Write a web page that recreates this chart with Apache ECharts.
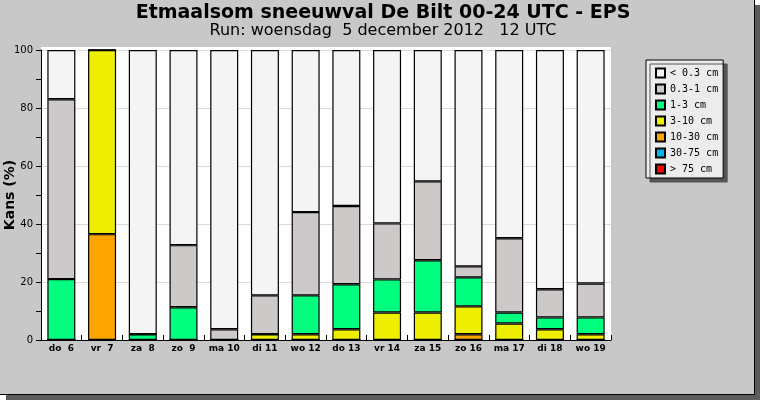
<!DOCTYPE html>
<html>
<head>
<meta charset="utf-8">
<script src="https://cdn.jsdelivr.net/npm/echarts@6/dist/echarts.min.js"></script>
<style>
  html, body { margin: 0; padding: 0; background: #fff; }
  #chart { width: 760px; height: 400px; }
</style>
</head>
<body>
<div id="chart"></div>
<script>
// dagen (x-as)
var days = ['do  6', 'vr  7', 'za  8', 'zo  9', 'ma 10', 'di 11', 'wo 12',
            'do 13', 'vr 14', 'za 15', 'zo 16', 'ma 17', 'di 18', 'wo 19'];

// kans (%) per klasse
var gt75   = [0, 0, 0, 0, 0, 0, 0, 0, 0, 0, 0, 0, 0, 0];
var c30_75 = [0, 0, 0, 0, 0, 0, 0, 0, 0, 0, 0, 0, 0, 0];
var c10_30 = [0, 36.5, 0, 0, 0, 0, 0, 0, 0, 0, 2, 0, 0, 0];
var c3_10  = [0, 63.5, 0, 0, 0, 2, 2, 3.7, 9.5, 9.5, 9.6, 5.7, 3.7, 2];
var c1_3   = [21, 0, 2, 11.3, 0, 0, 13.4, 15.5, 11.4, 18, 10, 3.8, 4.1, 5.8];
var c03_1  = [62, 0, 0, 21.4, 3.7, 13.4, 28.7, 27, 19.3, 27.2, 3.8, 25.6, 9.7, 11.7];
var lt03   = [17, 0, 98, 67.3, 96.3, 84.6, 55.9, 53.8, 59.8, 45.3, 74.6, 64.9, 82.5, 80.5];

var yTicks = [0, 20, 40, 60, 80, 100];

// legenda volgorde (boven naar onder)
var legendNames = ['< 0.3 cm', '0.3-1 cm', '1-3 cm', '3-10 cm', '10-30 cm', '30-75 cm', '> 75 cm'];

// stapel van onder naar boven
var classes = [
  { name: '> 75 cm',  data: gt75,   color: '#ff0000' },
  { name: '30-75 cm', data: c30_75, color: '#00b2ee' },
  { name: '10-30 cm', data: c10_30, color: '#ffa500' },
  { name: '3-10 cm',  data: c3_10,  color: '#eeee00' },
  { name: '1-3 cm',   data: c1_3,   color: '#00ff7f' },
  { name: '0.3-1 cm', data: c03_1,  color: '#cdc9c9' },
  { name: '< 0.3 cm', data: lt03,   color: '#f4f4f4' }
];

var series = [];
for (var i = 0; i < classes.length; i++) {
  series.push({
    name: classes[i].name,
    type: 'bar',
    stack: 'kans',
    barWidth: 28,
    data: classes[i].data,
    itemStyle: { color: classes[i].color, borderColor: '#000', borderWidth: 1.2 },
    emphasis: { disabled: true },
    animation: false
  });
}

var chart = echarts.init(document.getElementById('chart'), null, { renderer: 'canvas' });

var option = {
  backgroundColor: '#fff',
  animation: false,
  title: [{
    text: 'Etmaalsom sneeuwval De Bilt 00-24 UTC - EPS',
    left: 383, top: 4, padding: 0, textAlign: 'center',
    textStyle: { fontFamily: 'DejaVu Sans', fontWeight: 'bold', fontSize: 19, color: '#000' }
  }, {
    text: 'Run: woensdag  5 december 2012   12 UTC',
    left: 383, top: 23, padding: 0, textAlign: 'center',
    textStyle: { fontFamily: 'DejaVu Sans', fontWeight: 'normal', fontSize: 16, color: '#000' }
  }],
  graphic: [
    { type: 'rect', z: -30, silent: true, shape: { x: 6, y: 5, width: 754, height: 395 }, style: { fill: '#5c5c5c' } },
    { type: 'rect', z: -20, silent: true, shape: { x: 0, y: 0, width: 754, height: 394 }, style: { fill: '#c8c8c8' } },
    { type: 'line', z: -19, silent: true, shape: { x1: 754.5, y1: 0, x2: 754.5, y2: 394.5 }, style: { stroke: '#000', lineWidth: 1 } },
    { type: 'line', z: -19, silent: true, shape: { x1: 0, y1: 394.5, x2: 754.5, y2: 394.5 }, style: { stroke: '#000', lineWidth: 1 } },
    { type: 'rect', z: -10, silent: true, shape: { x: 41, y: 47, width: 570, height: 293 }, style: { fill: '#fff' } }
  ],
  legend: {
    data: legendNames,
    orient: 'vertical',
    left: 646, top: 60,
    padding: [7, 5, 3, 9],
    itemWidth: 9, itemHeight: 9, itemGap: 4,
    icon: 'rect',
    selectedMode: false,
    backgroundColor: '#ececec',
    borderColor: '#000', borderWidth: 1,
    shadowColor: '#555', shadowBlur: 0, shadowOffsetX: 4, shadowOffsetY: 4,
    textStyle: { fontFamily: 'DejaVu Sans Mono', fontSize: 10, color: '#000', lineHeight: 12 }
  },
  grid: { left: 41, right: 149, top: 50, bottom: 60, containLabel: false, outerBoundsMode: 'none' },
  xAxis: {
    type: 'category',
    data: days,
    axisLine: { lineStyle: { color: '#000', width: 1 } },
    axisTick: { show: true, inside: true, length: 5, interval: 0, lineStyle: { color: '#000' } },
    axisLabel: { interval: 0, margin: 4, fontFamily: 'DejaVu Sans', fontWeight: 'bold', fontSize: 9, color: '#000' },
    splitLine: { show: false }
  },
  yAxis: {
    type: 'value',
    min: yTicks[0], max: yTicks[yTicks.length - 1], interval: 20,
    name: 'Kans (%)',
    nameLocation: 'middle',
    nameGap: 24,
    nameMoveOverlap: false,
    nameTextStyle: { fontFamily: 'DejaVu Sans', fontWeight: 'bold', fontSize: 14, color: '#000' },
    axisLine: { show: true, lineStyle: { color: '#000', width: 1 } },
    axisTick: { show: true, length: 5, lineStyle: { color: '#000' } },
    minorTick: { show: true, splitNumber: 2, length: 5, lineStyle: { color: '#000' } },
    axisLabel: { margin: 8, fontFamily: 'DejaVu Sans', fontSize: 10, color: '#000' },
    splitLine: { show: true, lineStyle: { color: '#dadada', width: 1 } }
  },
  series: series
};

chart.setOption(option);
</script>
</body>
</html>
